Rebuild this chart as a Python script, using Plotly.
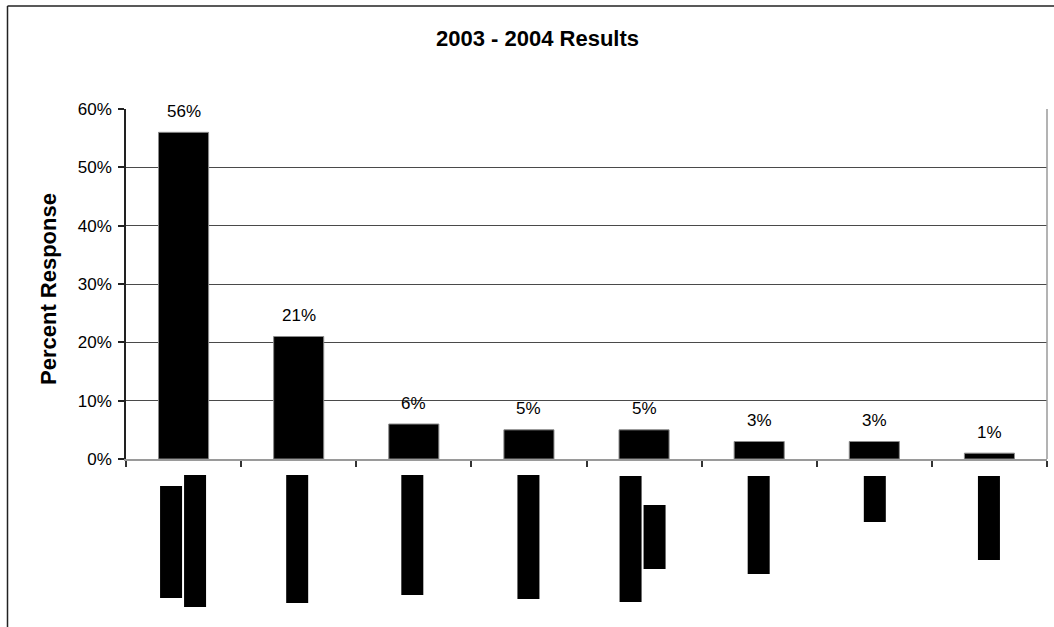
import plotly.graph_objects as go

# Survey responses, 2003 - 2004
categories = ["Item A", "Item B", "Item C", "Item D", "Item E", "Item F", "Item G", "Item H"]
percent_response = [56, 21, 6, 5, 5, 3, 3, 1]
value_labels = [f"{v}%" for v in percent_response]
y_ticks = [0, 10, 20, 30, 40, 50, 60]
y_tick_labels = [f"{t}%" for t in y_ticks]

# Canvas and plot-area geometry (pixels)
W, H = 1054, 627
L, R, T, B = 126, 7, 109, 168
PW, PH = W - L - R, H - T - B
FONT = "Liberation Sans, Arial, sans-serif"

def px_x(x):
    return (x - L) / PW

def px_y(y):
    return (H - B - y) / PH

# Blacked-out category labels: (category index, x offset from tick centre, top, bottom), px
label_blocks = [
    (0, -12.5, 486, 598), (0, 11.5, 475, 607),
    (1, -1.5, 475, 603),
    (2, -1.5, 475, 595),
    (3, -0.5, 475, 599),
    (4, -13.5, 476, 602), (4, 10.5, 505, 569),
    (5, -0.5, 476, 574),
    (6, 0.5, 476, 522),
    (7, -0.5, 476, 560),
]
BLOCK_W = 22

fig = go.Figure()
fig.add_trace(go.Bar(
    x=categories,
    y=percent_response,
    marker=dict(color="black", line=dict(color="#8a8a8a", width=1)),
    hoverinfo="x+y",
))

shapes = []
# right edge of the plot area
shapes.append(dict(type="line", xref="paper", yref="paper", x0=1, x1=1, y0=0, y1=1,
                   line=dict(color="#9a9a9a", width=1.5)))
# outer chart frame (left and top edges)
fx, fy = px_x(7.5), px_y(6)
shapes.append(dict(type="line", xref="paper", yref="paper", x0=fx, x1=fx, y0=px_y(640), y1=fy,
                   line=dict(color="#222", width=1.5)))
shapes.append(dict(type="line", xref="paper", yref="paper", x0=fx, x1=px_x(1070), y0=fy, y1=fy,
                   line=dict(color="#222", width=1.5)))

n = len(categories)
for idx, dx, top, bot in label_blocks:
    cx = (idx + 0.5) / n + dx / PW
    shapes.append(dict(type="rect", xref="paper", yref="paper",
                       x0=cx - BLOCK_W / 2 / PW, x1=cx + BLOCK_W / 2 / PW,
                       y0=px_y(bot), y1=px_y(top),
                       fillcolor="black", line=dict(width=0)))

annotations = []
for cat, v, txt in zip(categories, percent_response, value_labels):
    annotations.append(dict(x=cat, y=v, xref="x", yref="y", text=txt, showarrow=False,
                            yanchor="middle", yshift=21,
                            font=dict(family=FONT, size=17, color="black")))
annotations.append(dict(x=px_x(537), y=px_y(38), xref="paper", yref="paper",
                        text="<b>2003 - 2004 Results</b>", showarrow=False,
                        xanchor="center", yanchor="middle",
                        font=dict(family=FONT, size=22, color="black")))
annotations.append(dict(x=px_x(48), y=px_y(289), xref="paper", yref="paper",
                        text="<b>Percent Response</b>", showarrow=False, textangle=-90,
                        xanchor="center", yanchor="middle",
                        font=dict(family=FONT, size=22, color="black")))

fig.update_layout(
    width=W, height=H,
    margin=dict(l=L, r=R, t=T, b=B, pad=0),
    paper_bgcolor="white", plot_bgcolor="white",
    bargap=0.565,
    showlegend=False,
    shapes=shapes,
    annotations=annotations,
    font=dict(family=FONT, size=17, color="black"),
)
fig.update_xaxes(
    type="category",
    showticklabels=False,
    tickson="boundaries",
    ticks="outside", ticklen=6, tickcolor="#333", tickwidth=1.5,
    showline=True, linecolor="#9a9a9a", linewidth=1.5,
    showgrid=False, zeroline=False,
)
fig.update_yaxes(
    range=[0, 60],
    tickvals=y_ticks, ticktext=y_tick_labels,
    ticks="outside", ticklen=6, tickcolor="#222", tickwidth=1.5,
    ticklabelstandoff=3,
    tickfont=dict(family=FONT, size=17, color="black"),
    showline=True, linecolor="#222", linewidth=1.5,
    showgrid=True, gridcolor="#4a4a4a", gridwidth=1,
    zeroline=False,
)

fig.write_html("out.html")
